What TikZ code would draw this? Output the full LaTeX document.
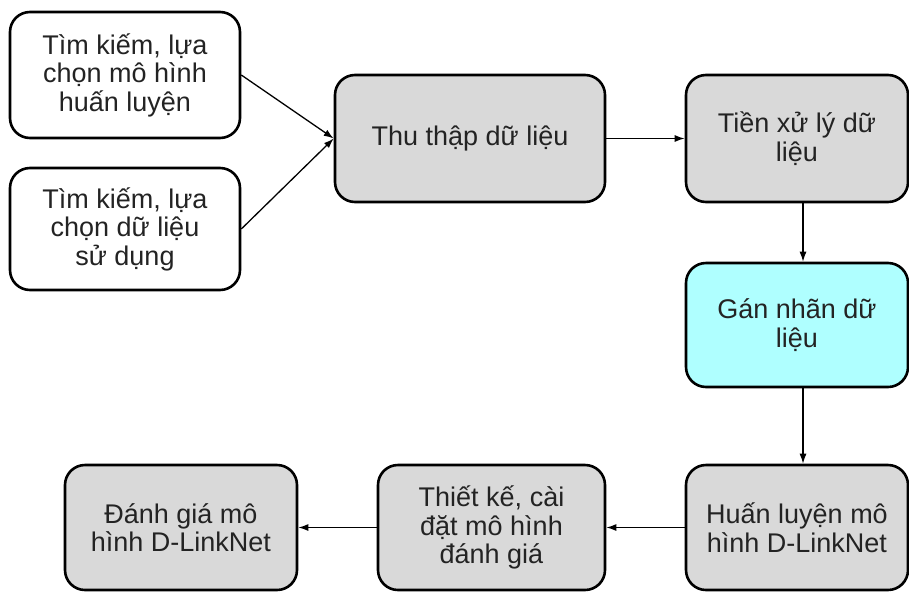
\documentclass[tikz,border=0pt]{standalone}
\usepackage{fontspec}
\setmainfont{Liberation Sans}
\usetikzlibrary{arrows.meta,positioning}
\definecolor{boxgrey}{RGB}{217,217,217}
\definecolor{boxcyan}{RGB}{175,255,255}
\definecolor{txtgrey}{RGB}{35,35,35}

\begin{document}
\begin{tikzpicture}[x=1pt, y=-1pt,
        box/.style = {draw, line width=2.6pt, rounded corners=20pt, align=center,
            text=txtgrey, inner sep=0pt, font=\fontsize{27}{28.5}\selectfont},
        whitebox/.style = {box, fill=white},
        greybox/.style = {box, fill=boxgrey},
        cyanbox/.style = {box, fill=boxcyan},
        link/.style = {-{Latex[length=10pt,width=7pt]}, line width=1.3pt}]
    \useasboundingbox (0,0) rectangle (909,592);

    \node [whitebox,minimum width=230pt,minimum height=126pt] (mohinh) at (125,75)
        {Tìm kiếm, lựa\\chọn mô hình\\huấn luyện};
    \node [whitebox,minimum width=230pt,minimum height=122pt] (dulieu) at (125,229)
        {Tìm kiếm, lựa\\chọn dữ liệu\\sử dụng};
    \node [greybox,minimum width=270pt,minimum height=127pt] (thuthap) at (470,138.5)
        {Thu thập dữ liệu};
    \node [greybox,minimum width=222pt,minimum height=127pt] (tienxuly) at (797,138.5)
        {Tiền xử lý dữ\\liệu};
    \node [cyanbox,minimum width=222pt,minimum height=124pt] (gannhan) at (797,325)
        {Gán nhãn dữ\\liệu};
    \node [greybox,minimum width=222pt,minimum height=125pt] (huanluyen) at (797,527.5)
        {Huấn luyện mô\\hình D-LinkNet};
    \node [greybox,minimum width=227pt,minimum height=125pt] (thietke) at (491.5,527.5)
        {Thiết kế, cài\\đặt mô hình\\đánh giá};
    \node [greybox,minimum width=232pt,minimum height=125pt] (danhgia) at (181,527.5)
        {Đánh giá mô\\hình D-LinkNet};

    \draw [link] (mohinh.east) -- (thuthap.west);
    \draw [link] (dulieu.east) -- (thuthap.west);
    \draw [link] (thuthap) -- (tienxuly);
    \draw [link] ([xshift=6pt]tienxuly.south) -- ([xshift=6pt]gannhan.north);
    \draw [link] ([xshift=6pt]gannhan.south) -- ([xshift=6pt]huanluyen.north);
    \draw [link] (huanluyen) -- (thietke);
    \draw [link] (thietke) -- (danhgia);
\end{tikzpicture}
\end{document}
